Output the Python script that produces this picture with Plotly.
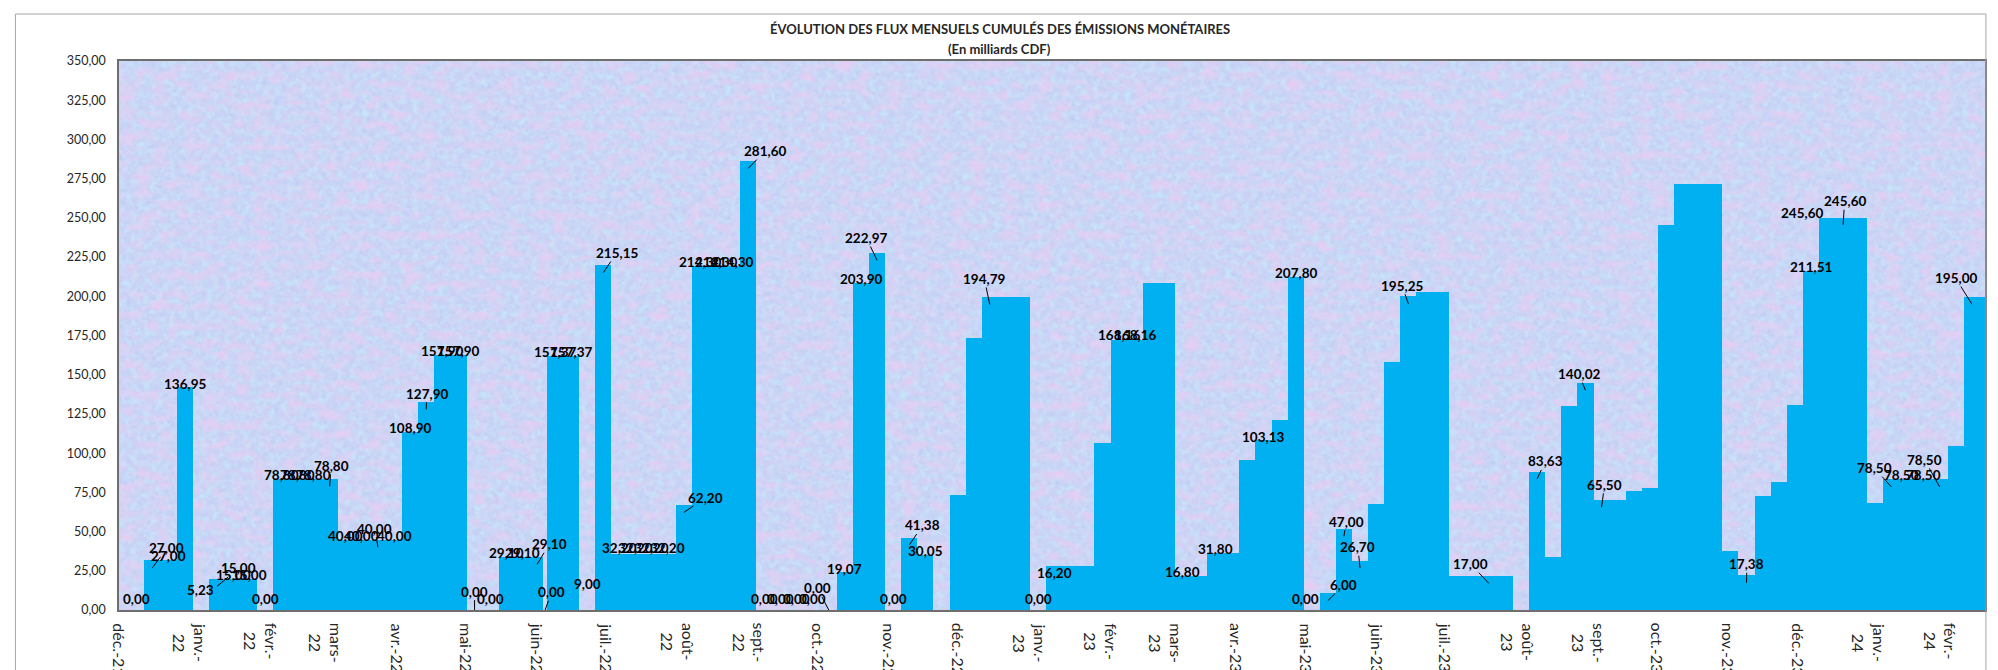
import base64
import pandas as pd
import plotly.graph_objects as go

# ---------------- data ----------------
# weekly periods (Sunday starts) + one short period starting 2022-06-03
semaines = pd.date_range("2021-12-05", periods=116, freq="7D")
debuts = list(semaines[:26]) + [pd.Timestamp("2022-06-03 10:00")] + list(semaines[26:])

# drawn bar heights (axis units)
barres = [
    0, 31.7, 31.7, 141.9, 0, 19.8, 19.8, 19.8, 0,
    83.4, 83.4, 83.4, 83.4, 44.8, 44.8, 44.8, 44.8,
    113.8, 132.7, 162.7, 162.7, 0, 0, 34.1, 34.1, 34.1,
    0,
    161.7, 161.7, 0, 219.8, 35.5, 35.5, 35.5, 35.5, 67.0,
    219.1, 219.1, 219.1, 286.3, 0, 0, 0, 0, 0,
    24.5, 208.5, 227.6, 0, 46.2, 35.1, 0, 73.4, 173.4,
    199.6, 199.6, 199.6, 0, 28.1, 28.1, 28.1, 106.4,
    172.3, 172.3, 208.5, 208.5, 21.7, 21.7, 36.6, 36.6,
    95.7, 108.1, 121.3, 212.3, 0, 10.7, 51.7, 31.5,
    67.5, 158.1, 200.0, 202.6, 202.6, 21.7, 21.7, 21.7, 21.7,
    0, 88.3, 33.6, 129.8, 144.7, 70.2, 70.2, 75.9, 77.7,
    245.7, 271.3, 271.3, 271.3, 37.3, 22.3, 72.8, 81.9,
    130.4, 216.0, 250.0, 250.0, 250.0, 68.1,
    83.4, 83.4, 83.4, 83.4, 104.3, 199.6, 199.6,
]

# data-label values (None = no label shown)
etiquettes = [
    0.00, 27.00, 27.00, 136.95, 5.23, 15.00, 15.00, 15.00, 0.00,
    78.80, 78.80, 78.80, 78.80, 40.00, 40.00, 40.00, 40.00,
    108.90, 127.90, 157.90, 157.90, 0.00, 0.00, 29.10, 29.10, 29.10,
    0.00,
    157.37, 157.37, 9.00, 215.15, 32.20, 32.20, 32.20, 32.20, 62.20,
    214.30, 214.30, 214.30, 281.60, 0.00, 0.00, 0.00, 0.00, 0.00,
    19.07, 203.90, 222.97, 0.00, 41.38, 30.05, None, None, None,
    194.79, None, None, 0.00, 16.20, None, None, None,
    168.16, 168.16, None, None, 16.80, None, 31.80, None,
    None, 103.13, None, 207.80, 0.00, 6.00, 47.00, 26.70,
    None, None, 195.25, None, None, None, None, 17.00, None,
    None, 83.63, None, None, 140.02, 65.50, None, None, None,
    None, None, None, None, None, 17.38, None, None,
    None, 211.51, 245.60, 245.60, None, None,
    78.50, 78.50, 78.50, 78.50, None, 195.00, None,
]

# month axis labels
mois = pd.date_range("2021-12-01", "2024-02-01", freq="MS")
mois_txt = [
    "déc.-21", "janv.-<br>22", "févr.-<br>22", "mars-<br>22", "avr.-22", "mai-22",
    "juin-22", "juil.-22", "août-<br>22", "sept.-<br>22", "oct.-22", "nov.-22",
    "déc.-22", "janv.-<br>23", "févr.-<br>23", "mars-<br>23", "avr.-23", "mai-23",
    "juin-23", "juil.-23", "août-<br>23", "sept.-<br>23", "oct.-23", "nov.-23",
    "déc.-23", "janv.-<br>24", "févr.-<br>24",
]

# label placement (style): index -> (dx px, dy px, leader line)
DEFAULT = (0, -11.5, False)
placement = {
    1: (14.2, -19.4, True), 5: (21.5, -18.2, True), 12: (1.5, -20.5, True),
    15: (-3, -18.3, True), 18: (0.4, -15.6, True), 21: (0, -18.4, True),
    25: (12, -20.1, True), 26: (6.1, -17.7, True), 30: (13.3, -19.6, True),
    35: (22.1, -14.9, True), 39: (16.9, -17.2, True), 44: (-11.3, -21.7, True),
    47: (-10.7, -22.3, True), 49: (13.2, -19.6, True), 54: (-5.4, -25.5, True),
    74: (-6, -11.5, False), 75: (16, -15.6, True), 76: (2.2, -14.7, True),
    77: (-2.2, -20.9, True), 80: (-6.3, -18, True), 85: (-18.1, -19.1, True),
    88: (8.1, -17.4, True), 91: (-6.5, -16.3, True), 92: (3, -22.4, True),
    101: (0.5, -18.5, True), 106: (-24.7, -11.8, False), 107: (1.6, -23.5, True),
    110: (-16.8, -18.7, True), 111: (-6, -11.5, False), 113: (-15.1, -27, True),
    115: (-16.3, -26.1, True),
}

# ---------------- geometry from dates ----------------
DAY_MS = 86400000
largeurs = []
for i, d in enumerate(debuts):
    if i + 1 < len(debuts):
        largeurs.append((debuts[i + 1] - d).total_seconds() * 1000)
    else:
        largeurs.append(7 * DAY_MS)
centres = [d + pd.Timedelta(milliseconds=w / 2) for d, w in zip(debuts, largeurs)]

fig = go.Figure()
fig.add_trace(go.Bar(
    x=debuts, y=barres, width=largeurs, offset=0,
    marker=dict(color="#00B0F0", line=dict(width=0)),
    showlegend=False, hoverinfo="skip",
))

FONT = "Lato"
ann = []
for i, v in enumerate(etiquettes):
    if v is None:
        continue
    dx, dy, leader = placement.get(i, DEFAULT)
    txt = f"{v:.2f}".replace(".", ",")
    base = dict(x=centres[i].strftime("%Y-%m-%d %H:%M:%S"), y=v, xref="x", yref="y",
                text=txt, font=dict(family=FONT, size=13.5, color="#000000", weight="bold"))
    if leader:
        base.update(showarrow=True, arrowhead=0, arrowwidth=1, arrowcolor="#000000",
                    ax=dx, ay=dy, axref="pixel", ayref="pixel", standoff=0, borderpad=0)
    else:
        base.update(showarrow=False, xshift=dx, yshift=-dy, xanchor="center", yanchor="middle")
    ann.append(base)

# month labels (rotated, centred on the 1st of each month)
for d, t in zip(mois, mois_txt):
    ann.append(dict(x=d.strftime("%Y-%m-%d"), y=0, xref="x", yref="paper", text=t,
                    showarrow=False, textangle=90, xanchor="center", yanchor="top",
                    yshift=-11, align="center",
                    font=dict(family=FONT, size=16, color="#262626")))

# title
ann.append(dict(text="ÉVOLUTION DES FLUX MENSUELS CUMULÉS DES ÉMISSIONS MONÉTAIRES",
                xref="paper", yref="paper", x=0.4721, y=1.0576, showarrow=False,
                xanchor="center", yanchor="middle",
                font=dict(family=FONT, size=13, color="#262626", weight="bold")))
ann.append(dict(text="(En milliards CDF)",
                xref="paper", yref="paper", x=0.4721, y=1.0226, showarrow=False,
                xanchor="center", yanchor="middle",
                font=dict(family=FONT, size=13, color="#262626", weight="bold")))

# textured plot background (SVG noise)
svg = """<svg xmlns="http://www.w3.org/2000/svg" width="1866" height="549" viewBox="0 0 1866 549">
<defs>
<filter id="f1" x="0" y="0" width="1866" height="549" filterUnits="userSpaceOnUse" color-interpolation-filters="sRGB">
<feTurbulence type="fractalNoise" baseFrequency="0.16" numOctaves="2" seed="7"/>
<feColorMatrix type="matrix" values="0 0 0 0 0.78  0 0 0 0 0.91  0 0 0 0 0.98  2.0 0 0 0 -0.8"/>
</filter>
<filter id="f2" x="0" y="0" width="1866" height="549" filterUnits="userSpaceOnUse" color-interpolation-filters="sRGB">
<feTurbulence type="fractalNoise" baseFrequency="0.06 0.1" numOctaves="2" seed="3"/>
<feColorMatrix type="matrix" values="0 0 0 0 0.92  0 0 0 0 0.80  0 0 0 0 0.95  0 1.9 0 0 -0.8"/>
</filter>
<filter id="f3" x="0" y="0" width="1866" height="549" filterUnits="userSpaceOnUse" color-interpolation-filters="sRGB">
<feTurbulence type="fractalNoise" baseFrequency="0.25" numOctaves="1" seed="11"/>
<feColorMatrix type="matrix" values="0 0 0 0 0.72  0 0 0 0 0.78  0 0 0 0 0.95  0 0 1.7 0 -0.82"/>
</filter>
</defs>
<rect width="1866" height="549" fill="#C9D3F5"/>
<rect width="1866" height="549" filter="url(#f3)"/>
<rect width="1866" height="549" filter="url(#f1)"/>
<rect width="1866" height="549" filter="url(#f2)"/>
</svg>"""
src = "data:image/svg+xml;base64," + base64.b64encode(svg.encode("utf-8")).decode("ascii")

fig.update_layout(
    width=1998, height=670,
    margin=dict(l=111, r=21, t=53, b=68, autoexpand=False),
    paper_bgcolor="#FFFFFF", plot_bgcolor="#C8D4F4",
    bargap=0, separators=", ",
    annotations=ann,
    images=[dict(source=src, xref="x domain", yref="y domain", x=0, y=1,
                 sizex=1, sizey=1, xanchor="left", yanchor="top",
                 sizing="stretch", layer="below")],
    shapes=[dict(type="rect", xref="paper", yref="paper",
                 x0=-0.0555, x1=1.0005, y0=-0.3, y1=1.0856,
                 line=dict(color="#A6A6A6", width=1), fillcolor="rgba(0,0,0,0)")],
)
fig.update_xaxes(
    type="date", range=["2021-11-30 22:00", "2024-02-20 05:00"],
    showticklabels=False, ticks="", showgrid=False, zeroline=False,
    showline=True, linecolor="#6E6E6E", linewidth=1.5, mirror=True,
    automargin=False,
)
fig.update_yaxes(
    range=[0, 350], tickmode="linear", tick0=0, dtick=25, tickformat=".2f",
    ticks="", ticklabelstandoff=9, showgrid=False, zeroline=False,
    showline=True, linecolor="#6E6E6E", linewidth=1.5, mirror=True,
    tickfont=dict(family=FONT, size=12.5, color="#262626"), automargin=False,
)

fig.write_html("out.html")
